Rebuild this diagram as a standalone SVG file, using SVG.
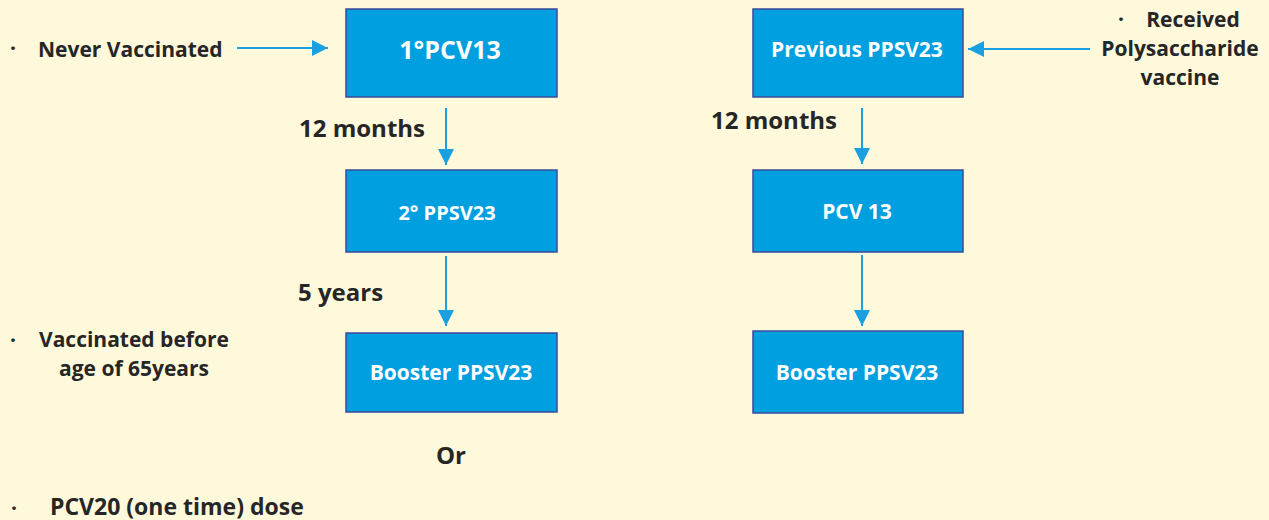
<svg xmlns="http://www.w3.org/2000/svg" width="1269" height="520" viewBox="0 0 1269 520">
<style>
.bg{fill:#FFF9DB}
.box{fill:#009FE0;stroke:#3A4A9A;stroke-width:1.5}
.bt{font-family:"Open Sans","Liberation Sans",sans-serif;font-weight:700;fill:#FFFFFF;text-anchor:middle}
.lt{font-family:"Open Sans","Liberation Sans",sans-serif;font-weight:700;fill:#262626}
.c{stroke:#1A9FE0;stroke-width:2;fill:none}
</style>
<defs>
<marker id="ahb" viewBox="0 0 16 16" refX="16" refY="8" markerWidth="16" markerHeight="16" markerUnits="userSpaceOnUse" orient="auto">
<path d="M0,0 L16,8 L0,16 z" fill="#1A9FE0"/>
</marker>
</defs>
<rect class="bg" x="0" y="0" width="1269" height="520"/>
<g id="connectors">
<line class="c" x1="237" y1="48" x2="328" y2="48" marker-end="url(#ahb)"/>
<line class="c" x1="446" y1="108" x2="446" y2="165" marker-end="url(#ahb)"/>
<line class="c" x1="446" y1="256" x2="446" y2="326" marker-end="url(#ahb)"/>
<line class="c" x1="1090" y1="49" x2="968" y2="49" marker-end="url(#ahb)"/>
<line class="c" x1="862" y1="108" x2="862" y2="164" marker-end="url(#ahb)"/>
<line class="c" x1="862" y1="255" x2="862" y2="326" marker-end="url(#ahb)"/>
</g>
<g id="node-pcv13-first">
<rect class="box" x="346" y="9" width="211" height="88"/>
<text class="bt" x="450" y="59" font-size="25">1°PCV13</text>
</g>
<g id="node-ppsv23-second">
<rect class="box" x="346" y="170" width="211" height="82"/>
<text class="bt" x="447" y="220" font-size="20">2° PPSV23</text>
</g>
<g id="node-booster-left">
<rect class="box" x="346" y="333" width="211" height="79"/>
<text class="bt" x="451" y="380" font-size="21">Booster PPSV23</text>
</g>
<g id="node-previous-ppsv23">
<rect class="box" x="753" y="9" width="210" height="88"/>
<text class="bt" x="857" y="57" font-size="21">Previous PPSV23</text>
</g>
<g id="node-pcv13-right">
<rect class="box" x="753" y="170" width="210" height="82"/>
<text class="bt" x="857" y="219" font-size="21">PCV 13</text>
</g>
<g id="node-booster-right">
<rect class="box" x="753" y="331" width="210" height="82"/>
<text class="bt" x="857" y="380" font-size="21">Booster PPSV23</text>
</g>
<g id="labels">
<text class="lt" x="10" y="56" font-size="21">·</text>
<text class="lt" x="38" y="57" font-size="21">Never Vaccinated</text>
<text class="lt" x="299" y="137" font-size="24">12 months</text>
<text class="lt" x="298" y="301" font-size="24">5 years</text>
<text class="lt" x="10" y="348" font-size="21">·</text>
<text class="lt" x="39" y="347" font-size="21">Vaccinated before</text>
<text class="lt" x="59" y="376" font-size="21">age of 65years</text>
<text class="lt" x="451" y="464" font-size="24" text-anchor="middle">Or</text>
<text class="lt" x="11" y="516" font-size="21">·</text>
<text class="lt" x="50" y="515" font-size="23">PCV20 (one time) dose</text>
<text class="lt" x="711" y="129" font-size="24">12 months</text>
<text class="lt" x="1118" y="27" font-size="21">·</text>
<text class="lt" x="1193" y="27" font-size="21" text-anchor="middle">Received</text>
<text class="lt" x="1180" y="56" font-size="21" text-anchor="middle">Polysaccharide</text>
<text class="lt" x="1180" y="85" font-size="21" text-anchor="middle">vaccine</text>
</g>
</svg>
